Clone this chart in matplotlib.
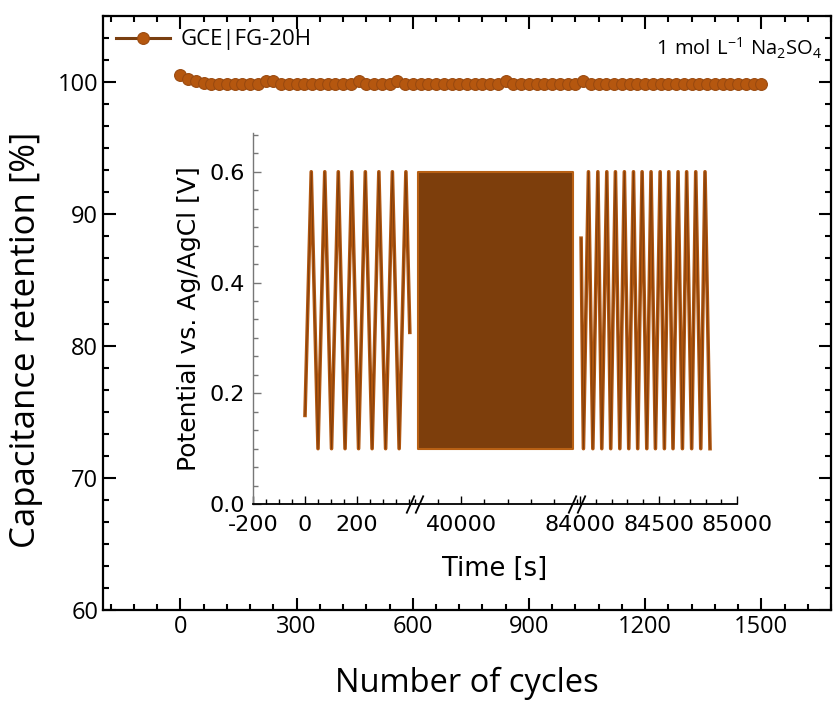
import matplotlib
matplotlib.use('Agg')
import matplotlib.pyplot as plt
import numpy as np
from matplotlib.ticker import MultipleLocator, AutoMinorLocator, FixedLocator

plt.rcParams['font.family'] = ['Open Sans', 'DejaVu Sans']
plt.rcParams['mathtext.fontset'] = 'custom'
plt.rcParams['mathtext.rm'] = 'Open Sans'
plt.rcParams['axes.unicode_minus'] = False

# main series: capacitance retention every 20 cycles
cycles = np.arange(0, 1501, 20)
retention = [
    100.5, 100.25, 100.05, 99.95, 99.85, 99.85, 99.85, 99.85, 99.85, 99.85,
    99.85, 100.05, 100.05, 99.85, 99.85, 99.85, 99.85, 99.85, 99.85, 99.85,
    99.85, 99.85, 99.85, 100.05, 99.85, 99.85, 99.85, 99.85, 100.05, 99.85,
    99.85, 99.85, 99.85, 99.85, 99.85, 99.85, 99.85, 99.85, 99.85, 99.85,
    99.85, 99.85, 100.05, 99.85, 99.85, 99.85, 99.85, 99.85, 99.85, 99.85,
    99.85, 99.85, 100.05, 99.85, 99.85, 99.85, 99.85, 99.85, 99.85, 99.85,
    99.85, 99.85, 99.85, 99.85, 99.85, 99.85, 99.85, 99.85, 99.85, 99.85,
    99.85, 99.85, 99.85, 99.85, 99.85, 99.85,
]

# inset: potential vs time, turning points of the GCD curves
t_start = [0, 24, 50, 76, 102, 128, 154, 180, 206, 232, 258, 284, 310, 336, 362, 388, 403]
v_start = [0.16, 0.6, 0.1, 0.6, 0.1, 0.6, 0.1, 0.6, 0.1, 0.6, 0.1, 0.6, 0.1, 0.6, 0.1, 0.6, 0.31]

t_end = [84006, 84021, 84053, 84081, 84113, 84138, 84170, 84195, 84225, 84253,
         84282, 84310, 84340, 84367, 84395, 84425, 84452, 84480, 84510, 84537,
         84565, 84592, 84624, 84652, 84679, 84711, 84737, 84769, 84796, 84828]
v_end = [0.48, 0.1, 0.6, 0.1, 0.6, 0.1, 0.6, 0.1, 0.6, 0.1,
         0.6, 0.1, 0.6, 0.1, 0.6, 0.1, 0.6, 0.1, 0.6, 0.1,
         0.6, 0.1, 0.6, 0.1, 0.6, 0.1, 0.6, 0.1, 0.6, 0.1]

# middle part: thousands of cycles, drawn as a filled band
t_mid = [30700, 64200]
v_mid_low = [0.1, 0.1]
v_mid_high = [0.6, 0.6]

W, H = 834, 702
fig = plt.figure(figsize=(W / 100, H / 100), dpi=100)

ax = fig.add_axes([103 / W, 1 - 610 / H, 728 / W, 594 / H])
ax.plot(cycles, retention, '-o', color='#7a3f10', lw=2.2,
        markerfacecolor='#b5570f', markeredgecolor='#9a4a10', markeredgewidth=0.8,
        markersize=8.5, label='GCE|FG-20H')
ax.set_xlim(-200, 1680)
ax.set_ylim(60, 105)
ax.xaxis.set_major_locator(MultipleLocator(300))
ax.xaxis.set_minor_locator(MultipleLocator(60))
ax.yaxis.set_major_locator(MultipleLocator(10))
ax.yaxis.set_minor_locator(AutoMinorLocator(6))
ax.tick_params(which='both', direction='in', top=True, right=True, labelsize=17, width=1.5)
ax.tick_params(which='major', length=9)
ax.tick_params(which='minor', length=4.5)
for s in ax.spines.values():
    s.set_linewidth(1.6)
ax.set_xlabel('Number of cycles', fontsize=23.5, labelpad=20)
ax.set_ylabel('Capacitance retention [%]', fontsize=25)
ax.yaxis.set_label_coords(-0.083, 0.455)
ax.legend(loc='upper left', frameon=False, fontsize=16, handlelength=2.4,
          bbox_to_anchor=(0.0, 1.0), borderaxespad=0.2, handletextpad=0.5)
ax.text(0.988, 0.945, r'$\mathregular{1\ mol\ L^{-1}\ Na_2SO_4}$', transform=ax.transAxes,
        ha='right', va='center', fontsize=14.5)

# inset with broken time axis
bottom = 1 - 504 / H
height = (504 - 133) / H
segs = [(253, 415, (-200, 423)), (415, 577, (30000, 65000)), (577, 737, (83980, 85000))]
insets = []
for x0, x1, lim in segs:
    a = fig.add_axes([x0 / W, bottom, (x1 - x0) / W, height])
    a.patch.set_alpha(0)
    a.set_xlim(*lim)
    a.set_ylim(0, 0.67)
    a.spines['top'].set_visible(False)
    a.spines['right'].set_visible(False)
    a.spines['bottom'].set_linewidth(1.3)
    a.tick_params(which='both', direction='in', labelsize=16, width=1.0,
                  labelfontfamily='DejaVu Sans')
    a.tick_params(which='major', length=6)
    a.tick_params(which='minor', length=3.5)
    a.tick_params(axis='x', pad=8)
    a.tick_params(axis='y', pad=6)
    insets.append(a)

a1, a2, a3 = insets
lc = '#b0560f'
a1.plot(t_start, v_start, color=lc, lw=2.6)
a1.plot(t_start, v_start, color='#7a3a0a', lw=0.6)
a3.plot(t_end, v_end, color=lc, lw=2.6)
a3.plot(t_end, v_end, color='#7a3a0a', lw=0.6)
a2.fill_between(t_mid, v_mid_low, v_mid_high, color='#7d3e0c', lw=1.5, edgecolor='#b86014')

a1.xaxis.set_major_locator(FixedLocator([-200, 0, 200]))
a1.xaxis.set_minor_locator(MultipleLocator(50))
a1.yaxis.set_major_locator(MultipleLocator(0.2))
a1.yaxis.set_minor_locator(AutoMinorLocator(6))
a1.yaxis.set_major_formatter('{x:.1f}')
a1.spines['left'].set_color('#777777')
a1.spines['left'].set_linewidth(1.0)
a1.tick_params(axis='y', which='both', color='#777777')
a1.set_ylabel('Potential vs. Ag/AgCl [V]', fontsize=18, family='DejaVu Sans', labelpad=6)

a2.xaxis.set_major_locator(FixedLocator([40000]))
a2.xaxis.set_minor_locator(MultipleLocator(5000))
a3.xaxis.set_major_locator(MultipleLocator(500))
a3.xaxis.set_minor_locator(MultipleLocator(100))
for a in (a2, a3):
    a.spines['left'].set_visible(False)
    a.tick_params(axis='y', which='both', left=False, labelleft=False)

# break marks "//"
kw = dict(marker=[(-0.45, -1), (0.45, 1)], markersize=13, linestyle='none',
          color='k', mew=1.3, clip_on=False, transform=fig.transFigure)
yb = 1 - 504 / H
fig.lines.append(plt.Line2D([410 / W, 419 / W], [yb, yb], **kw))
fig.lines.append(plt.Line2D([572 / W, 581 / W], [yb, yb], **kw))

fig.text(495 / W, 1 - 569 / H, 'Time [s]', ha='center', va='center', fontsize=18.5,
         family='DejaVu Sans')

fig.savefig('out.png', dpi=100)
